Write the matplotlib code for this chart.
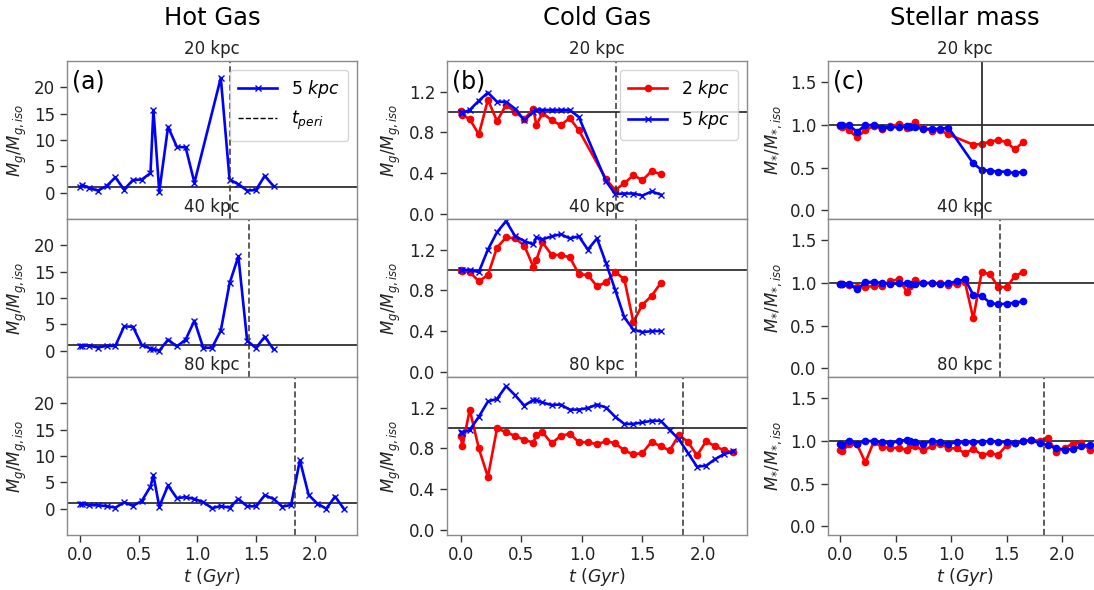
import matplotlib
matplotlib.use("Agg")
import matplotlib.pyplot as plt
from matplotlib.lines import Line2D

# ---------------------------------------------------------------- data
# snapshot times (Gyr)
t_80 = [0, 0.015, 0.075, 0.15, 0.225, 0.3, 0.375, 0.45, 0.525, 0.6, 0.625,
        0.675, 0.75, 0.825, 0.9, 0.975, 1.05, 1.125, 1.2, 1.275, 1.35, 1.425,
        1.5, 1.575, 1.65, 1.725, 1.8, 1.875, 1.95, 2.025, 2.1, 2.175, 2.25]
t_40 = t_80[:25]
t_20 = t_40[:16] + t_40[18:]

orbits = ["20 kpc", "40 kpc", "80 kpc"]
t_peri = [1.28, 1.445, 1.835]

# hot gas, 5 kpc
hot_5_20 = [1.07, 1.5, 0.9, 0.4, 1.25, 2.9, 0.6, 2.4, 2.5, 3.7, 15.7, 0.2,
            12.5, 8.7, 8.6, 1.9, 21.8, 2.5, 1.6, 0.4, 0.5, 3.2, 1.25]
hot_5_40 = [0.95, 0.95, 0.95, 0.6, 0.9, 0.9, 4.6, 4.55, 1.1, 0.4, 0.25, 0.0,
            2.1, 0.8, 2.1, 5.7, 0.55, 0.55, 3.8, 12.8, 17.9, 1.9, 0.5, 2.65,
            0.25]
hot_5_80 = [0.95, 0.95, 0.65, 0.65, 0.5, 0.2, 1.2, 0.55, 1.45, 4.2, 6.35, 0.4,
            4.4, 2.0, 2.2, 1.85, 1.25, 0.1, 0.5, 0.2, 1.85, 0.45, 0.45, 2.55,
            1.85, 0.4, 0.7, 9.2, 2.6, 0.95, 0.0, 2.3, 0.0]

# cold gas, 2 kpc and 5 kpc
cold_2_20 = [1.005, 0.97, 0.93, 0.78, 1.12, 0.91, 1.07, 1.0, 0.93, 1.03, 0.87,
             0.99, 0.92, 0.87, 0.94, 0.82, 0.34, 0.235, 0.30, 0.38, 0.33, 0.42,
             0.39]
cold_5_20 = [1.0, 0.99, 1.02, 1.11, 1.19, 1.10, 1.10, 1.03, 0.92, 1.0, 1.02,
             1.02, 1.02, 1.02, 1.02, 0.95, 0.32, 0.195, 0.20, 0.20, 0.18, 0.22,
             0.19]
cold_2_40 = [1.0, 0.99, 0.98, 0.89, 0.95, 1.22, 1.32, 1.31, 1.24, 1.03, 1.10,
             1.27, 1.15, 1.145, 1.125, 0.96, 0.95, 0.84, 0.88, 0.98, 0.91, 0.49,
             0.66, 0.745, 0.87]
cold_5_40 = [1.0, 1.0, 1.0, 0.98, 1.2, 1.37, 1.48, 1.33, 1.285, 1.25, 1.32,
             1.30, 1.33, 1.35, 1.31, 1.33, 1.2, 1.31, 1.065, 0.805, 0.535, 0.415,
             0.39, 0.40, 0.40]
cold_2_80 = [0.917, 0.82, 1.18, 0.80, 0.52, 0.995, 0.96, 0.92, 0.885, 0.855,
             0.935, 0.96, 0.85, 0.92, 0.945, 0.86, 0.86, 0.84, 0.87, 0.85, 0.78,
             0.74, 0.755, 0.865, 0.82, 0.78, 0.93, 0.865, 0.73, 0.87, 0.82,
             0.78, 0.76]
cold_5_80 = [0.965, 0.955, 0.98, 1.11, 1.26, 1.285, 1.41, 1.32, 1.22, 1.275,
             1.27, 1.25, 1.225, 1.23, 1.18, 1.18, 1.195, 1.23, 1.2, 1.11, 1.04,
             1.04, 1.055, 1.07, 1.07, 0.98, 0.89, 0.755, 0.62, 0.63, 0.695,
             0.745, 0.77]

# stellar mass, 2 kpc and 5 kpc
star_2_20 = [0.99, 0.98, 0.94, 0.855, 0.94, 0.99, 0.95, 0.985, 1.01, 0.965,
             0.99, 1.03, 0.96, 0.935, 0.94, 0.89, 0.77, 0.78, 0.805, 0.825,
             0.80, 0.715, 0.80]
star_5_20 = [1.0, 1.0, 1.0, 0.92, 1.0, 1.0, 0.97, 0.975, 0.975, 0.985, 0.98,
             0.975, 0.955, 0.955, 0.955, 0.97, 0.55, 0.475, 0.465, 0.455, 0.455,
             0.435, 0.455]
star_2_40 = [0.99, 0.99, 0.98, 0.95, 0.95, 0.97, 0.97, 1.02, 1.045, 0.90, 0.97,
             1.03, 1.0, 1.0, 1.0, 0.98, 0.99, 1.01, 0.585, 1.125, 1.105, 0.955,
             0.95, 1.08, 1.13]
star_5_40 = [0.99, 0.99, 0.99, 0.925, 1.01, 1.015, 1.0, 0.99, 0.995, 0.995,
             0.99, 0.99, 1.0, 1.0, 0.99, 1.0, 1.02, 1.045, 0.86, 0.85, 0.77,
             0.75, 0.76, 0.77, 0.785]
star_2_80 = [0.90, 0.88, 0.96, 0.96, 0.75, 0.99, 0.93, 0.92, 0.92, 0.90, 0.955,
             0.94, 0.89, 0.94, 0.97, 0.915, 0.915, 0.855, 0.91, 0.84, 0.855,
             0.84, 0.95, 0.975, 0.995, 1.015, 1.0, 1.035, 0.87, 0.92, 0.97,
             0.98, 0.90]
star_5_80 = [0.97, 0.955, 1.0, 0.97, 1.0, 1.0, 0.985, 0.975, 1.0, 1.015, 0.995,
             0.985, 0.97, 1.0, 0.985, 0.97, 0.985, 0.985, 0.985, 0.99, 1.0,
             0.99, 0.985, 0.975, 0.995, 1.01, 0.975, 0.95, 0.915, 0.90, 0.905,
             0.94, 0.955]

column_titles = ["Hot Gas", "Cold Gas", "Stellar mass"]
panel_tags = ["(a)", "(b)", "(c)"]
x_ticks = [0.0, 0.5, 1.0, 1.5, 2.0]

# ---------------------------------------------------------------- layout
W, H = 1094, 590
fig = plt.figure(figsize=(W / 100, H / 100), dpi=100)

col_px = [(67, 357), (447, 747), (828, 1102)]
row_px = [(61, 219), (219, 377), (377, 535)]

ylims = [(-5, 25), (-0.05, 1.5), (-0.1, 1.75)]
yticks = [[0, 5, 10, 15, 20], [0.0, 0.4, 0.8, 1.2], [0.0, 0.5, 1.0, 1.5]]
yfmt = ["{:.0f}", "{:.1f}", "{:.1f}"]
ylabels = [r"$M_g/M_{g,iso}$", r"$M_g/M_{g,iso}$", r"$M_{*}/M_{*,iso}$"]

times = [t_20, t_40, t_80]
hot = [hot_5_20, hot_5_40, hot_5_80]
cold2 = [cold_2_20, cold_2_40, cold_2_80]
cold5 = [cold_5_20, cold_5_40, cold_5_80]
star2 = [star_2_20, star_2_40, star_2_80]
star5 = [star_5_20, star_5_40, star_5_80]

spine_col = "#8a8a8a"
lab_col = "#222222"

red_kw = dict(color="red", marker="o", ms=4.5, lw=1.9)
blue_x_kw = dict(color="blue", marker="x", ms=4.5, mew=1.0, lw=1.9)
blue_o_kw = dict(color="blue", marker="o", ms=4.5, lw=1.9)

for c in range(3):
    x0, x1 = col_px[c]
    first = None
    for r in range(3):
        y0, y1 = row_px[r]
        rect = [x0 / W, 1 - y1 / H, (x1 - x0) / W, (y1 - y0) / H]
        ax = fig.add_axes(rect, sharex=first)
        if first is None:
            first = ax
        t = times[r]

        if c == 0:
            ax.plot(t, hot[r], **blue_x_kw, label=r"$5\ kpc$")
        elif c == 1:
            ax.plot(t, cold2[r], **red_kw, label=r"$2\ kpc$")
            ax.plot(t, cold5[r], **blue_x_kw, label=r"$5\ kpc$")
        else:
            ax.plot(t, star2[r], **red_kw, label=r"$2\ kpc$")
            ax.plot(t, star5[r], **blue_o_kw, label=r"$5\ kpc$")

        ax.axhline(1.0, color="#303030", lw=1.3, zorder=1)
        if c == 2 and r == 0:
            ax.axvline(t_peri[r], color="#303030", lw=1.3, ls="-")
        else:
            ax.axvline(t_peri[r], color="#303030", lw=1.1, ls=(0, (4, 2)))

        ax.set_xlim(-0.1125, 2.3625)
        ax.set_ylim(*ylims[c])
        ax.set_yticks(yticks[c])
        ax.set_yticklabels([yfmt[c].format(v) for v in yticks[c]])
        ax.set_ylabel(ylabels[c], fontsize=12, color=lab_col, labelpad=4)
        ax.set_title(orbits[r], fontsize=12, color=lab_col, pad=5)

        for sp in ax.spines.values():
            sp.set_color(spine_col)
            sp.set_linewidth(1.0)
        ax.tick_params(axis="y", labelsize=12, colors=lab_col, length=5,
                       width=1.0, color="#333333")
        if r < 2:
            ax.tick_params(axis="x", bottom=False, labelbottom=False)
        else:
            ax.set_xticks(x_ticks)
            ax.set_xticklabels([f"{v:.1f}" for v in x_ticks])
            ax.tick_params(axis="x", labelsize=12, colors=lab_col, length=5,
                           width=1.0, color="#333333", pad=3)
            ax.set_xlabel(r"$t\ (Gyr)$", fontsize=12.5, color=lab_col,
                          labelpad=1)

        if r == 0:
            ax.text(0.018, 0.87, panel_tags[c], transform=ax.transAxes,
                    fontsize=17, ha="left", va="center", color="black")
            if c == 0:
                handles = [Line2D([], [], **blue_x_kw),
                           Line2D([], [], color="black", lw=1.0, ls="--")]
                ax.legend(handles, [r"$5\ kpc$", r"$t_{peri}$"],
                          loc="upper right", fontsize=12.5,
                          handlelength=2.2, borderpad=0.5)
            elif c == 1:
                ax.legend(loc="upper right", fontsize=12.5, handlelength=2.2,
                          borderpad=0.5)

    fig.text(((x0 + x1) / 2) / W, 1 - 18 / H, column_titles[c],
             fontsize=17.5, ha="center", va="center", color="black")

fig.savefig("out.png", dpi=100)
